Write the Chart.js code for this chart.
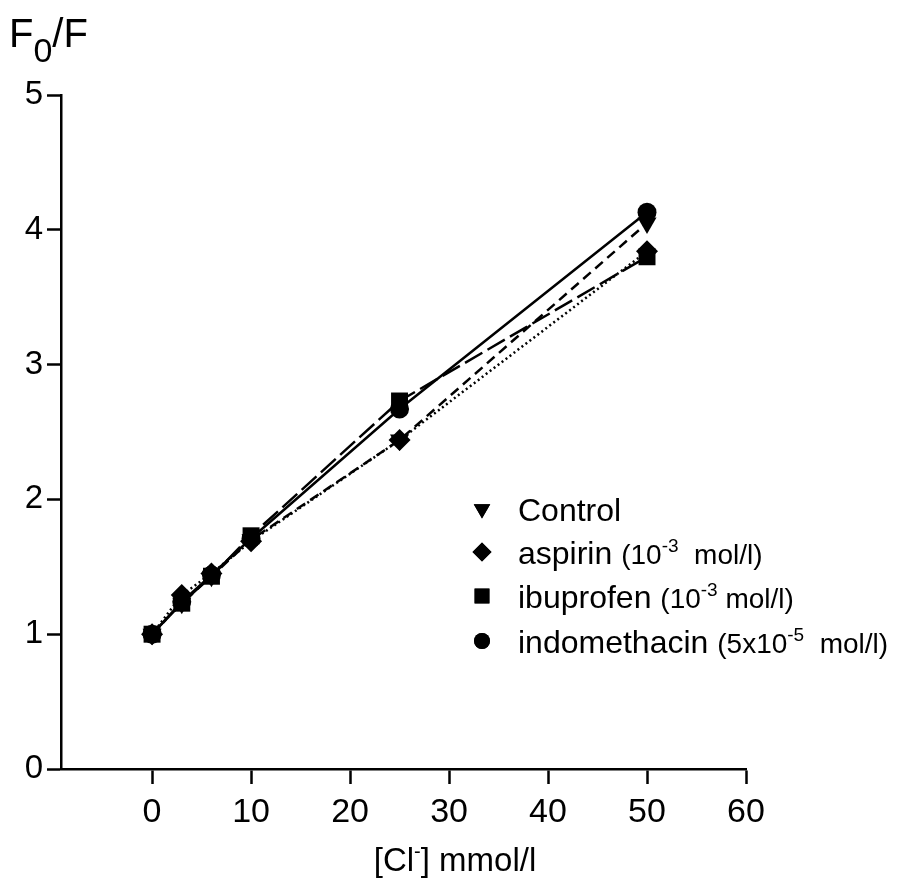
<!DOCTYPE html>
<html>
<head>
  <meta charset="UTF-8" />
  <title>F0/F vs chloride</title>
  <script src="https://cdn.jsdelivr.net/npm/chart.js@4"></script>
  <style>
    html, body { margin: 0; padding: 0; background: #fff; }
    #wrap { position: relative; width: 911px; height: 885px; }
  </style>
</head>
<body>
  <div id="wrap"><canvas id="chart"></canvas></div>
  <script>
    // [Cl-] in mmol/l
    const conc = [0, 3, 6, 10, 25, 50];
    const control = [1.00, 1.23, 1.43, 1.70, 2.44, 4.05];
    const aspirin = [1.00, 1.29, 1.45, 1.69, 2.44, 3.84];
    const ibuprofen = [1.00, 1.23, 1.43, 1.73, 2.73, 3.80];
    const indomethacin = [1.00, 1.24, 1.44, 1.71, 2.67, 4.13];
    const xTicks = [0, 10, 20, 30, 40, 50, 60];
    const yTicks = [0, 1, 2, 3, 4, 5];

    const FONT = "'Liberation Sans', Arial, sans-serif";

    const pts = vals => vals.map((v, i) => ({ x: conc[i], y: v }));

    const series = [
      { label: "Control", data: control, style: "triangle", rot: 180, r: 11, dash: [10, 6] },
      { label: "aspirin", data: aspirin, style: "rectRot", rot: 0, r: 11, dash: [2, 3] },
      { label: "ibuprofen", data: ibuprofen, style: "rect", rot: 0, r: 12, dash: [20, 6] },
      { label: "indomethacin", data: indomethacin, style: "circle", rot: 0, r: 9.5, dash: [] }
    ];

    // legend text pieces: n = normal, p = small, s = superscript
    const legendText = [
      [["n", "Control"]],
      [["n", "aspirin "], ["p", "(10"], ["s", "-3"], ["p", "  mol/l)"]],
      [["n", "ibuprofen "], ["p", "(10"], ["s", "-3"], ["p", " mol/l)"]],
      [["n", "indomethacin "], ["p", "(5x10"], ["s", "-5"], ["p", "  mol/l)"]]
    ];

    const fonts = { n: "32px " + FONT, p: "28px " + FONT, s: "19px " + FONT };

    function drawPieces(ctx, pieces, x, y) {
      pieces.forEach(([k, t]) => {
        ctx.font = fonts[k];
        const dy = k === "s" ? -12 : 0;
        ctx.fillText(t, x, y + dy);
        x += ctx.measureText(t).width;
      });
      return x;
    }

    const extras = {
      id: "extras",
      afterDraw(chart) {
        const ctx = chart.ctx;
        ctx.save();
        ctx.fillStyle = "#000";
        ctx.textBaseline = "alphabetic";
        ctx.textAlign = "left";

        // y title F0/F
        ctx.font = "40px " + FONT;
        ctx.fillText("F", 9, 47);
        let x = 9 + ctx.measureText("F").width;
        ctx.font = "34px " + FONT;
        ctx.fillText("0", x, 62);
        x += ctx.measureText("0").width;
        ctx.font = "40px " + FONT;
        ctx.fillText("/F", x, 47);

        // x title [Cl-] mmol/l
        const xt = [["n", "[Cl"], ["s", "-"], ["n", "] mmol/l"]];
        const titleFonts = { n: "33px " + FONT, s: "20px " + FONT };
        let w = 0;
        xt.forEach(([k, t]) => { ctx.font = titleFonts[k]; w += ctx.measureText(t).width; });
        x = 455 - w / 2;
        xt.forEach(([k, t]) => {
          ctx.font = titleFonts[k];
          ctx.fillText(t, x, 871 + (k === "s" ? -13 : 0));
          x += ctx.measureText(t).width;
        });

        // legend
        const rows = [509, 552, 596, 641];
        series.forEach((s, i) => {
          Chart.helpers.drawPoint(ctx, {
            pointStyle: s.style, rotation: s.rot, radius: s.r - 1.5, borderWidth: 0
          }, 482, rows[i]);
          ctx.fill();
          drawPieces(ctx, legendText[i], 518, rows[i] + 12);
        });
        ctx.restore();
      }
    };

    new Chart(document.getElementById("chart"), {
      type: "line",
      data: {
        datasets: series.map(s => ({
          label: s.label,
          data: pts(s.data),
          borderColor: "#000",
          backgroundColor: "#000",
          borderWidth: 2.5,
          borderDash: s.dash,
          pointStyle: s.style,
          rotation: s.rot,
          pointRadius: s.r,
          pointBorderWidth: 0,
          tension: 0,
          clip: false
        }))
      },
      options: {
        responsive: true,
        maintainAspectRatio: false,
        animation: false,
        events: [],
        layout: { padding: { top: 95, right: 165, bottom: 46, left: 0 } },
        plugins: { legend: { display: false }, tooltip: { enabled: false } },
        scales: {
          x: {
            type: "linear",
            min: -9.2,
            max: 60,
            afterBuildTicks: s => { s.ticks = xTicks.map(v => ({ value: v })); },
            afterFit: s => { s.height = 70; },
            grid: { drawOnChartArea: false, tickLength: 15, tickColor: "#000", tickWidth: 2.5 },
            border: { color: "#000", width: 2.5 },
            ticks: { color: "#000", font: { family: FONT, size: 34 }, padding: 8, maxRotation: 0 }
          },
          y: {
            min: 0,
            max: 5,
            afterBuildTicks: s => { s.ticks = yTicks.map(v => ({ value: v })); },
            afterFit: s => { s.width = 61; },
            grid: { drawOnChartArea: false, tickLength: 14, tickColor: "#000", tickWidth: 2.5 },
            border: { color: "#000", width: 2.5 },
            ticks: { color: "#000", font: { family: FONT, size: 33 }, padding: 4 }
          }
        }
      },
      plugins: [extras]
    });
  </script>
</body>
</html>
